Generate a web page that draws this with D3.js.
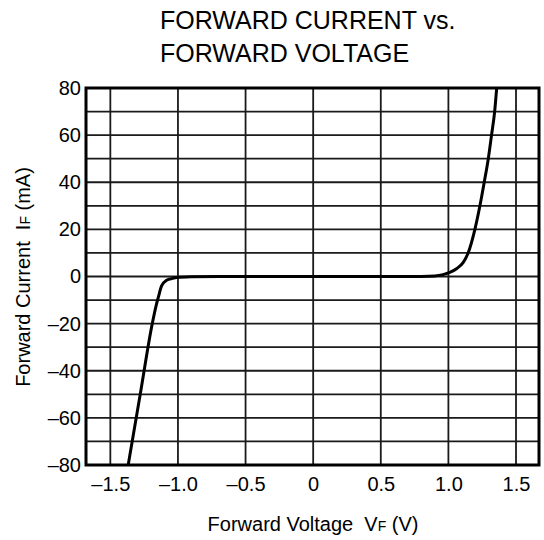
<!DOCTYPE html>
<html><head><meta charset="utf-8">
<script src="https://cdn.jsdelivr.net/npm/d3@7"></script>
<style>
html,body{margin:0;padding:0;background:#fff;}
svg text{font-family:"Liberation Sans",Arial,sans-serif;fill:#000;white-space:pre;}
</style></head>
<body>
<svg id="chart" width="544" height="540"></svg>
<script>
// Data
const voltage = [-1.368, -1.279, -1.190, -1.160, -1.146, -1.121, -1.084, -1.040, -1.010, -0.900, -0.690, 0.000, 0.600, 0.800, 0.900, 0.960, 1.010, 1.060, 1.110, 1.146, 1.196, 1.233, 1.265, 1.295, 1.319, 1.342, 1.357];
const current = [-80, -50, -20, -12, -9, -4, -1.6, -0.8, -0.45, -0.15, 0, 0, 0, 0.05, 0.25, 0.8, 1.7, 3.3, 6, 10, 20, 30, 40, 50, 60, 70, 80];
const xTicks = [-1.5, -1.0, -0.5, 0, 0.5, 1.0, 1.5];
const xTickLabels = ["–1.5", "–1.0", "–0.5", "0", "0.5", "1.0", "1.5"];
const yTicks = [-80, -60, -40, -20, 0, 20, 40, 60, 80];
const yTickLabels = ["–80", "–60", "–40", "–20", "0", "20", "40", "60", "80"];
const yGrid = [-70, -60, -50, -40, -30, -20, -10, 0, 10, 20, 30, 40, 50, 60, 70];
const titleLines = ["FORWARD CURRENT vs.", "FORWARD VOLTAGE"];

const svg = d3.select("#chart");
const x = d3.scaleLinear().domain([-1.68, 1.67]).range([86, 539]);
const y = d3.scaleLinear().domain([-80, 80]).range([465, 88]);

// grid
svg.append("g").selectAll("line").data(yGrid).join("line")
  .attr("x1", x.range()[0]).attr("x2", x.range()[1])
  .attr("y1", d => y(d)).attr("y2", d => y(d))
  .attr("stroke", "#1a1a1a").attr("stroke-width", 1.8);
svg.append("g").selectAll("line").data(xTicks).join("line")
  .attr("y1", y.range()[0]).attr("y2", y.range()[1])
  .attr("x1", d => x(d)).attr("x2", d => x(d))
  .attr("stroke", "#1a1a1a").attr("stroke-width", 1.8);

// curve
const pts = voltage.map((v, i) => [v, current[i]]);
svg.append("path").datum(pts)
  .attr("fill", "none").attr("stroke", "#000").attr("stroke-width", 3)
  .attr("stroke-linejoin", "round")
  .attr("d", d3.line().x(d => x(d[0])).y(d => y(d[1])).curve(d3.curveMonotoneX));

// border
svg.append("rect")
  .attr("x", x.range()[0]).attr("y", y.range()[1])
  .attr("width", x.range()[1] - x.range()[0]).attr("height", y.range()[0] - y.range()[1])
  .attr("fill", "none").attr("stroke", "#000").attr("stroke-width", 3);

// axes (labels only)
const xAxis = svg.append("g").attr("transform", `translate(0,${y.range()[0]})`)
  .call(d3.axisBottom(x).tickValues(xTicks).tickSize(0).tickPadding(12)
    .tickFormat((d, i) => xTickLabels[i]));
xAxis.select(".domain").remove();
xAxis.selectAll("text").attr("font-size", 20).attr("font-family", "Liberation Sans, Arial, sans-serif");

const yAxis = svg.append("g").attr("transform", `translate(${x.range()[0]},0)`)
  .call(d3.axisLeft(y).tickValues(yTicks).tickSize(0).tickPadding(5)
    .tickFormat((d, i) => yTickLabels[i]));
yAxis.select(".domain").remove();
yAxis.selectAll("text").attr("font-size", 20).attr("font-family", "Liberation Sans, Arial, sans-serif");

// title
svg.append("g").selectAll("text").data(titleLines).join("text")
  .attr("x", 160).attr("y", (d, i) => 29 + i * 33)
  .attr("font-size", 25).text(d => d);

// x label
const xl = svg.append("text").attr("x", 313).attr("y", 531).attr("text-anchor", "middle").attr("font-size", 20);
xl.append("tspan").text("Forward Voltage  V");
xl.append("tspan").attr("font-size", 14).text("F");
xl.append("tspan").text(" (V)");

// y label
const yl = svg.append("text").attr("transform", "translate(30,277) rotate(-90)").attr("text-anchor", "middle").attr("font-size", 20);
yl.append("tspan").text("Forward Current  I");
yl.append("tspan").attr("font-size", 14).text("F");
yl.append("tspan").text(" (mA)");
</script>
</body></html>
